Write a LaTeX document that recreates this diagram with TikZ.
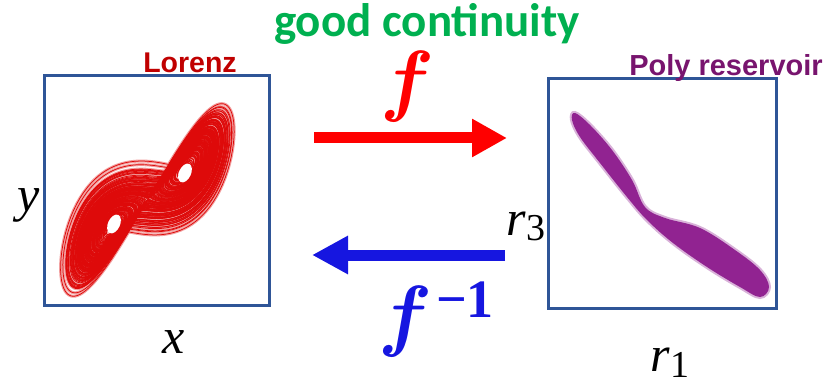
\documentclass[tikz,border=0pt]{standalone}
\usepackage{amsmath}
\usepackage{fontspec}
\newfontfamily\gcfont{Carlito}
\newfontfamily\arfont{Liberation Sans}
\newfontfamily\tmfont{Liberation Serif}
\usetikzlibrary{arrows.meta}
\definecolor{boxblue}{RGB}{47,85,151}
\definecolor{lorred}{RGB}{222,10,10}
\definecolor{lorpink}{RGB}{242,160,160}
\definecolor{labred}{RGB}{192,0,0}
\definecolor{polypurple}{RGB}{120,20,110}
\definecolor{attpurple}{RGB}{145,35,145}
\definecolor{goodgreen}{RGB}{0,176,80}
\definecolor{arrred}{RGB}{255,0,0}
\definecolor{arrblue}{RGB}{22,22,224}
\tikzset{
  panel/.style={draw=boxblue, line width=3pt, inner sep=0pt},
  fwd/.style={draw=arrred, line width=11pt, -{Triangle[length=35pt,width=36pt]}},
  bwd/.style={draw=arrblue, line width=11pt, -{Triangle[length=36pt,width=36pt]}},
  axislabel/.style={font=\fontsize{50}{50}\selectfont\tmfont\itshape, inner sep=0pt, anchor=base},
  flabel/.style={anchor=base, inner sep=0pt},
  hole/.style={fill=white},
}
\newcommand{\subtxt}[1]{\raisebox{-6pt}{\fontsize{38}{38}\selectfont\upshape #1}}
\newcommand{\bigmath}[1]{\scalebox{3.2}{\fontsize{24.88}{25}\selectfont\boldmath$#1$}}
% Lorenz integration in fixed point (pt units)
\newdimen\LX \newdimen\LY \newdimen\LZ
\newdimen\DX \newdimen\DY \newdimen\DZ
\newcount\Ltmp \newcount\Lstep \newcount\Lchunk
\newcommand{\lorenzstep}{%
  \DX=\dimexpr(\LY-\LX)/20\relax
  \Ltmp=\dimexpr28pt-\LZ\relax
  \DY=\dimexpr(\LX*\Ltmp/65536-\LY)/200\relax
  \Ltmp=\LY
  \DZ=\dimexpr(\LX*\Ltmp/65536-\LZ*8/3)/200\relax
  \advance\LX\DX \advance\LY\DY \advance\LZ\DZ}
\newcommand{\lorpt}{\pgfqpoint{\dimexpr148pt+\LX*45/10\relax}{\dimexpr187pt+\LY*37/10\relax}}
\newcommand{\lorchunks}{%
  \pgfpathmoveto{\lorpt}%
  \Lstep=0
  \loop \lorenzstep \pgfpathlineto{\lorpt}\advance\Lstep 1 \ifnum\Lstep<200 \repeat
  \pgfusepath{stroke}%
  \advance\Lchunk -1
  \ifnum\Lchunk>0 \expandafter\lorchunks\fi}
\newcommand{\lorenzrun}[3]{%
  \begin{scope}
  \pgfsetlinewidth{#1}%
  \pgfsetstrokecolor{#2}%
  \pgfsetroundjoin
  \LX=1pt \LY=1pt \LZ=20pt
  \Lstep=0
  \loop \lorenzstep \advance\Lstep 1 \ifnum\Lstep<400 \repeat
  \Lchunk=#3
  \lorchunks
  \end{scope}}
\begin{document}
\begin{tikzpicture}[x=1pt,y=1pt]
\useasboundingbox (0,0) rectangle (840,386);
% ---- Lorenz attractor (left), x-y projection ----
\lorenzrun{3pt}{lorpink}{220}
\lorenzrun{0.75pt}{lorred}{220}
\fill[hole] (185,213) ellipse[x radius=10, y radius=6, rotate=65];
\fill[hole] (114,162) ellipse[x radius=10, y radius=6, rotate=65];
% ---- Poly reservoir attractor (right) ----
\path[fill=attpurple, draw=attpurple, draw opacity=0.35, line width=4pt]
  plot[smooth cycle, tension=0.6] coordinates {
  (575,273) (590,261) (612,236) (632,206) (645,179) (665,168) (700,158)
  (735,136) (760,116) (769,99) (760,89) (740,99) (707,119) (673,143)
  (647,166) (627,189) (600,223) (580,249) (572,266)};
\fill[hole] (610,201) ellipse[x radius=9, y radius=2.5, rotate=-55];
\fill[hole] (693,118) ellipse[x radius=9, y radius=2.5, rotate=-35];
% ---- panels ----
\node[panel, minimum width=225pt, minimum height=229pt] (L) at (156.5,195.5) {};
\node[panel, minimum width=228pt, minimum height=229pt] (R) at (662,192.5) {};
% ---- titles ----
\node[font=\fontsize{28.5}{28}\selectfont\arfont\bfseries, text=labred, anchor=base, inner sep=0pt] (lt) at (190,313) {Lorenz};
\node[font=\fontsize{29}{29}\selectfont\arfont\bfseries, text=polypurple, anchor=base, inner sep=0pt] (rt) at (726,310) {Poly reservoir};
\node[font=\fontsize{47}{47}\selectfont\gcfont\bfseries, text=goodgreen, anchor=base, inner sep=0pt] (gc) at (427,349) {good continuity};
% ---- axis labels ----
\node[axislabel] (ly) at (29,175) {y};
\node[axislabel] (lx) at (174,33) {x};
\node[axislabel] (r3) at (526,151) {r\subtxt{3}};
\node[axislabel] (r1) at (670,15) {r\subtxt{1}};
% ---- arrows ----
\coordinate (fa) at (314,248);
\coordinate (fb) at (507,248);
\coordinate (ba) at (505,131);
\coordinate (bb) at (312,131);
\draw[fwd] (fa) -- (fb);
\draw[bwd] (ba) -- (bb);
\node[flabel, text=arrred] (fl) at (408,279) {\bigmath{f}};
\node[flabel, text=arrblue] (finv) at (436,45) {\bigmath{f}\hspace{4pt}\raisebox{24pt}{\fontsize{54}{54}\selectfont\tmfont\bfseries −1}};
\end{tikzpicture}
\end{document}
